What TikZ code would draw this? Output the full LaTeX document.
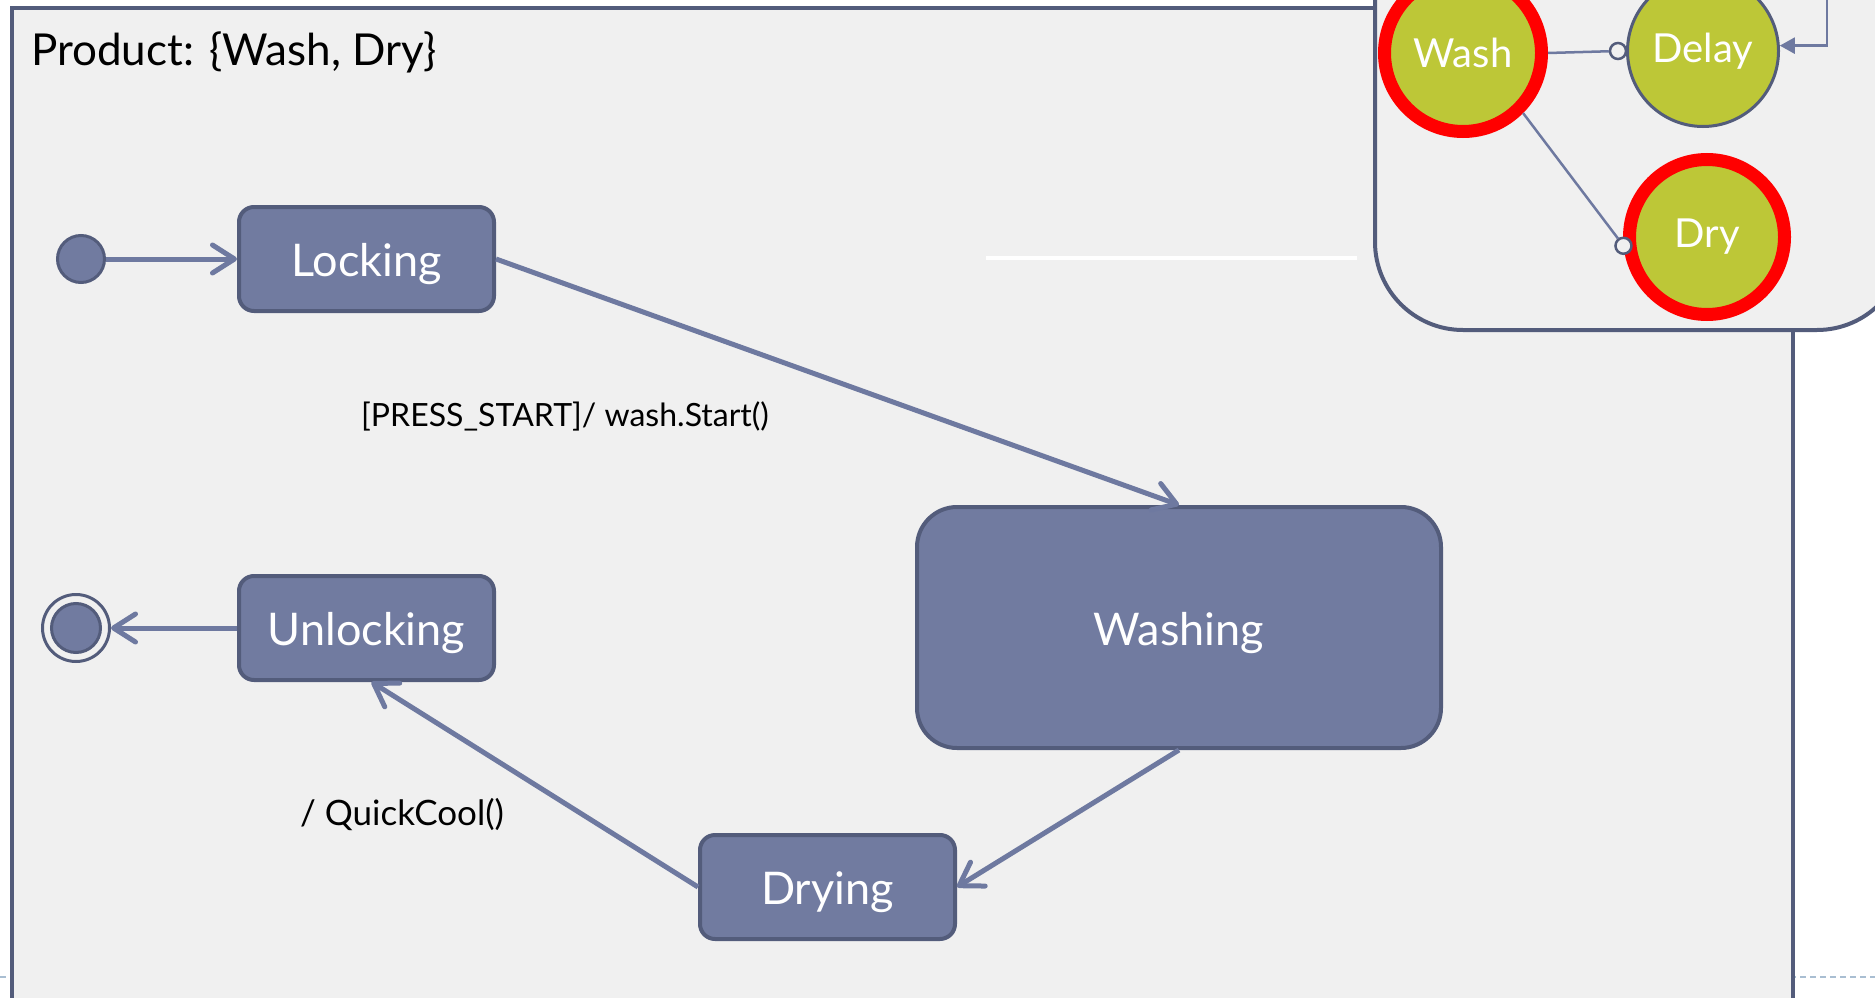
\documentclass[tikz,border=0pt]{standalone}
\usepackage{fontspec}
\setmainfont{Lato}
\usetikzlibrary{arrows.meta}

\definecolor{paneFill}{HTML}{F0F0F0}
\definecolor{edgeDark}{HTML}{535C7B}
\definecolor{stateFill}{HTML}{717BA0}
\definecolor{wire}{HTML}{6E79A0}
\definecolor{olive}{HTML}{BDC737}
\definecolor{rule}{HTML}{A9BED2}

\begin{document}
\begin{tikzpicture}[x=1pt,y=-1pt,
  statebox/.style={draw=edgeDark, fill=stateFill, line width=4, rounded corners=15,
    minimum width=255, minimum height=104, inner sep=0, text=white,
    text height=35pt, text depth=0pt,
    font=\fontsize{45}{50}\selectfont},
  trans/.style={draw=wire, line width=5,
    -{Straight Barb[length=22pt,width=28pt,round]}},
  guard/.style={text=black, inner sep=0, font=\fontsize{32}{38}\selectfont},
  feature/.style={circle, fill=olive, inner sep=0, text=white,
    font=\fontsize{40}{46}\selectfont},
  chosen/.style={feature, draw=red, line width=13, minimum size=157},
  open/.style={feature, draw=edgeDark, line width=3, minimum size=151},
  port/.style={circle, draw=edgeDark, fill=paneFill, line width=2.5,
    minimum size=16, inner sep=0},
  link/.style={draw=wire, line width=2.5}]

\clip (0,0) rectangle (1875,998);
\fill[white] (0,0) rectangle (1875,998);

% slide footer rule
\draw[rule, line width=2, dash pattern=on 6pt off 4pt] (0,977) -- (1875,977);

% outer state frame
\draw[edgeDark, fill=paneFill, line width=4] (12,8) rectangle (1793,1100);
\node[anchor=base west, inner sep=0, font=\fontsize{44}{50}\selectfont]
  (title) at (31,66) {Product: \{Wash, Dry\}};

\draw[white, line width=4] (986,258) -- (1357,258);

% feature panel
\draw[edgeDark, fill=paneFill, line width=4, rounded corners=88]
  (1375,-150) rectangle (1905,330);

\node[chosen] (Wash) at (1463,53) {Wash};
\node[open] (Delay) at (1703,51) {Delay};
\node[chosen, minimum size=155] (Dry) at (1707,237) {Dry};

\node[port] (delayport) at ([xshift=-8pt]Delay.west) {};
\node[port] (dryport) at (Dry.186) {};
\draw[link] (Wash.east) -- (delayport);
\draw[link] (Wash.-45) -- (dryport);

\coordinate (feed) at (1827,-10);
\draw[link, -{Triangle[length=15pt,width=16pt]}] (feed) |- (Delay.4);

% states
\node[circle, draw=edgeDark, fill=stateFill, line width=3, minimum size=47, inner sep=0]
  (init) at (81,259) {};
\node[circle, draw=edgeDark, fill=paneFill, line width=3, minimum size=67, inner sep=0]
  (final) at (76,628) {};
\node[circle, draw=edgeDark, fill=stateFill, line width=3, minimum size=49, inner sep=0]
  (finalcore) at (76,628) {};

\node[statebox] (Locking) at (366.5,259) {Locking};
\node[statebox] (Unlocking) at (366.5,628) {Unlocking};
\node[statebox] (Drying) at (827.5,887) {Drying};
\node[statebox, rounded corners=40, minimum width=524, minimum height=241]
  (Washing) at (1179,627.5) {Washing};

% transitions
\draw[trans] (init.east) -- (Locking.west);
\draw[trans] (Locking.east) -- (Washing.north);
\draw[trans] (Washing.south) -- (Drying.east);
\draw[trans] (Drying.west) -- ([xshift=5pt]Unlocking.south);
\draw[trans] (Unlocking.west) -- (final.east);

\node[guard] (startguard) at (565,416) {[PRESS\_START]/ wash.Start()};
\node[guard, font=\fontsize{35}{40}\selectfont] (coolaction) at (402,815) {/ QuickCool()};

\end{tikzpicture}
\end{document}
